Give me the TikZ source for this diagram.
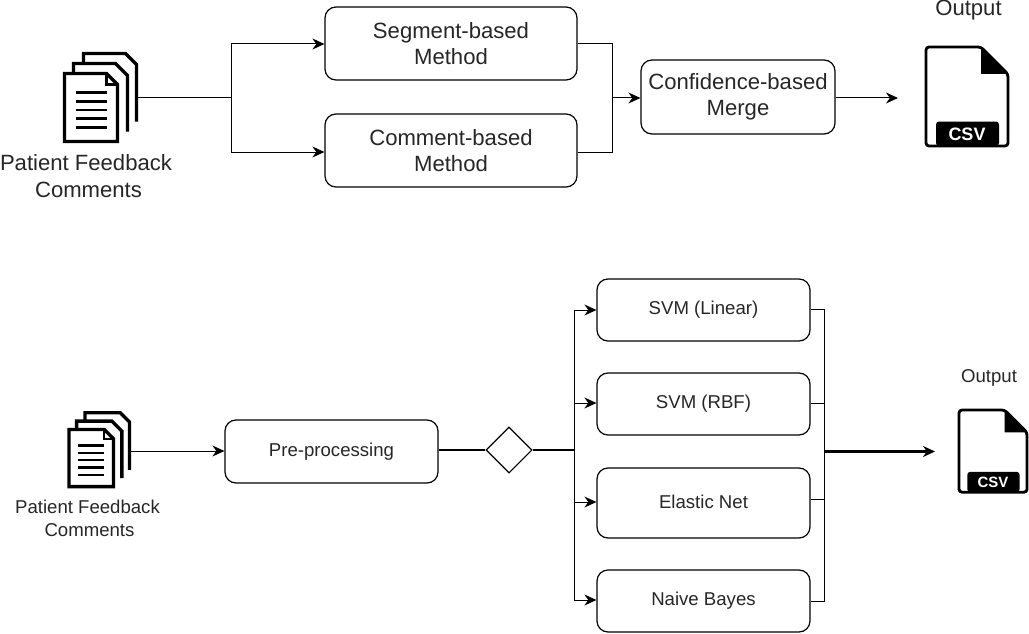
\documentclass[tikz,border=0pt]{standalone}
\usepackage{fontspec}
\setmainfont{Liberation Sans}
\usetikzlibrary{arrows.meta,shapes.geometric,positioning,calc}

\definecolor{labelgray}{HTML}{262626}
\newcommand{\bigfont}{\fontsize{22.1}{26.5}\selectfont}
\newcommand{\midfont}{\fontsize{18.6}{30}\selectfont}

\tikzset{
  line/.style={draw=black, line width=1pt},
  arrow/.style={line, -{Stealth[length=12pt,width=11pt]}},
  roundbox/.style={draw=black, line width=1.2pt, rounded corners=11pt, align=center, text=labelgray, inner sep=0pt},
  biglabel/.style={font=\bigfont, align=center, text=labelgray},
  midlabel/.style={font=\midfont, align=center, text=labelgray},
  pics/docstack/.style={code={
    \draw[line width=3.4pt, line join=miter] (19,-10) -- (19,-20) -- (61,-20) -- (72,-9) -- (72,48);
    \draw[line width=3.4pt, line join=miter] (9,0) -- (9,-10) -- (51,-10) -- (63,2) -- (63,58);
    \draw[line width=3.4pt, fill=white, line join=miter] (0,0) -- (42,0) -- (53,11) -- (53,68) -- (0,68) -- cycle;
    \draw[line width=2.4pt] (42,0) -- (42,11) -- (53,11);
    \foreach \y in {19,28,36.5,45,54} {
      \draw[line width=2.6pt] (11,\y) -- (42,\y);
    }
  }},
  pics/csvicon/.style={code={
    \draw[line width=2.8pt, rounded corners=3pt] (0,0) -- (55,0) -- (82,27) -- (82,99) -- (0,99) -- cycle;
    \fill[black] (55,0) -- (82,27) -- (55,27) -- cycle;
    \fill[black, rounded corners=3pt] (10,99) -- (10,74.5) -- (73,74.5) -- (73,99) -- cycle;
    \node[text=white, font=\fontsize{18}{18}\selectfont\bfseries, transform shape, inner sep=0pt] (csvtag) at (41,87) {CSV};
  }}
}

\begin{document}
\begin{tikzpicture}[x=1pt, y=-1pt]
\useasboundingbox (0,0) rectangle (1029,634);

% upper diagram
\pic at (64.5,73.5) {docstack};
\coordinate (docsA) at (136,98);
\node[biglabel] (feedbackA) at (86,176) {Patient Feedback\\\hspace{5pt}Comments};

\node[roundbox, font=\bigfont, minimum width=252pt, minimum height=73pt] (segment) at (451,43.5) {Segment-based\\Method};
\node[roundbox, font=\bigfont, minimum width=252pt, minimum height=73pt] (comment) at (451,150.5) {Comment-based\\Method};
\node[roundbox, font=\bigfont, minimum width=194pt, minimum height=74pt] (merge) at (738,97) {Confidence-based\\Merge};

\coordinate (splitA) at (231,98);
\coordinate (joinA) at (612,98);
\coordinate (csvA) at (898,98);

\draw[line] (docsA) -- (splitA);
\draw[arrow] (splitA) |- (segment.west |- 0,44);
\draw[arrow] (splitA) |- (comment.west |- 0,152);
\draw[line] (segment.east |- 0,44) -| (joinA);
\draw[line] (comment.east |- 0,152) -| (joinA);
\draw[arrow] (joinA) -- (merge.west |- joinA);
\draw[arrow] (merge.east |- csvA) -- (csvA);

\pic at (926,47) {csvicon};
\node[biglabel] (outputA) at (968.5,10) {Output};

% lower diagram
\pic[scale=0.84] at (69,429.5) {docstack};
\coordinate (docsB) at (130,451);
\node[midlabel] (feedbackB) at (87.5,518) {Patient Feedback\\[-7pt]\hspace{4pt}Comments};

\node[roundbox, font=\midfont, minimum width=213pt, minimum height=63pt] (prep) at (331.5,451.5) {Pre-processing};
\node[draw=black, line width=1.1pt, diamond, aspect=1, minimum width=46pt, minimum height=46pt, inner sep=0pt] (gate) at (509,450) {};

\node[roundbox, font=\midfont, minimum width=213pt, minimum height=62pt] (linear) at (703.5,310) {SVM (Linear)};
\node[roundbox, font=\midfont, minimum width=213pt, minimum height=62pt] (rbf) at (703.5,404) {SVM (RBF)};
\node[roundbox, font=\midfont, minimum width=213pt, minimum height=70pt] (elastic) at (703.5,503) {\raisebox{2pt}{Elastic Net}};
\node[roundbox, font=\midfont, minimum width=213pt, minimum height=62pt] (bayes) at (703.5,601) {Naive Bayes};

\coordinate (splitB) at (574,450);
\coordinate (joinB) at (824,451.5);
\coordinate (csvB) at (935,451.5);

\draw[arrow] (docsB) -- (prep.west |- docsB);
\draw[line, line width=1.8pt] (prep.east |- gate) -- (gate);
\draw[line, line width=1.8pt] (gate) -- (splitB);
\draw[arrow] (splitB) |- (linear.west);
\draw[arrow] (splitB) |- (rbf.west |- 0,403);
\draw[arrow] (splitB) |- (elastic.west |- 0,502);
\draw[arrow] (splitB) |- (bayes.west |- 0,600);
\draw[line, line width=0.8pt] (linear.east |- 0,309.5) -| (joinB);
\draw[line, line width=0.8pt] (rbf.east |- 0,403.5) -| (joinB);
\draw[line, line width=0.8pt] (elastic.east |- 0,499) -| (joinB);
\draw[line, line width=0.8pt] (bayes.east) -| (joinB);
\draw[arrow, line width=2.4pt] (joinB) -- (csvB);

\pic[scale=0.83] at (959,410) {csvicon};
\node[midlabel] (outputB) at (989,378) {Output};

\end{tikzpicture}
\end{document}
